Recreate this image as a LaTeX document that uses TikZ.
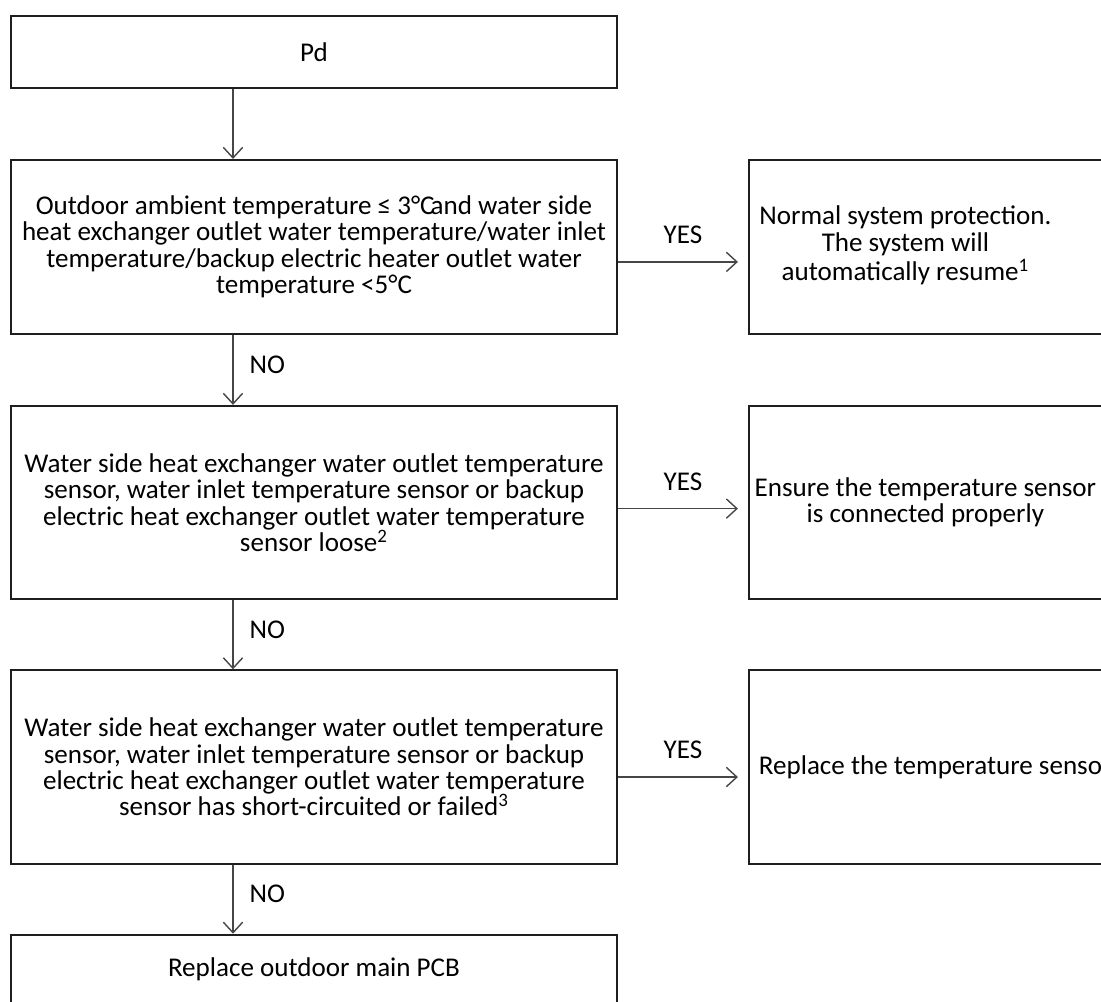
\documentclass[tikz,border=0pt]{standalone}
\usepackage{fontspec}
\setmainfont{Carlito}
\usetikzlibrary{arrows.meta,calc,positioning}
\definecolor{fcline}{RGB}{30,30,30}
\definecolor{fcarrow}{RGB}{70,70,70}

\begin{document}
\begin{tikzpicture}[
  node distance=1.4cm and 2.6cm,
  every node/.style={font=\fontsize{15.4}{15}\selectfont},
  box/.style={draw=fcline, line width=1.1pt, minimum width=12.12cm,
    align=center, inner sep=0pt},
  cond/.style={box, minimum height=3.87cm},
  act/.style={box, minimum width=7.06cm, minimum height=3.87cm},
  arr/.style={-{Straight Barb[length=6pt,width=11pt]}, draw=fcarrow, line width=0.8pt},
  lab/.style={inner sep=0pt}
]
  \useasboundingbox (0,0) rectangle (22.02,-20.02);
  \coordinate (spine) at (4.66,0);

  % left column
  \node[box, minimum height=1.44cm, anchor=north west] (pd) at (0.2,-0.3) {Pd};
  \node[cond, minimum height=3.48cm, below=1.40cm of pd] (cond1)
    {Outdoor ambient temperature ≤ 3°C\kern-0.15em and water side\\
     heat exchanger outlet water temperature/water inlet\\
     temperature/backup electric heater outlet water\\
     temperature <5°C};
  \node[cond, below=1.40cm of cond1] (cond2)
    {Water side heat exchanger water outlet temperature\\
     sensor, water inlet temperature sensor or backup\\
     electric heat exchanger outlet water temperature\\
     sensor loose\textsuperscript{2}};
  \node[cond, below=1.38cm of cond2] (cond3)
    {Water side heat exchanger water outlet temperature\\
     sensor, water inlet temperature sensor or backup\\
     electric heat exchanger outlet water temperature\\
     sensor has short-circuited or failed\textsuperscript{3}};
  \node[box, minimum height=1.40cm, below=1.38cm of cond3] (pcb) {Replace outdoor main PCB};

  % right column
  \node[act, minimum height=3.48cm, right=of cond1] (chk1)
    {\begin{tabular}{@{}c@{\hspace{0.8cm}}}Normal system protection.\\The system will\\
     automatically resume\textsuperscript{1}\end{tabular}};
  \node[act, right=of cond2] (chk2)
    {Ensure the temperature sensor\\is connected properly};
  \node[act, right=of cond3] (chk3)
    {\makebox[6.66cm][l]{Replace the temperature sensor}};

  % connectors
  \draw[arr] (pd.south -| spine) -- (cond1.north -| spine);
  \draw[arr] (cond1.south -| spine) -- node[lab, right=9pt, yshift=3pt]{NO} (cond2.north -| spine);
  \draw[arr] (cond2.south -| spine) -- node[lab, right=9pt, yshift=3pt]{NO} (cond3.north -| spine);
  \draw[arr] (cond3.south -| spine) -- node[lab, right=9pt, yshift=3pt]{NO} (pcb.north -| spine);

  \draw[arr, shorten >=0.2cm] ($(cond1.east)+(0,-0.3)$) -- node[lab, above=10pt]{YES} ($(chk1.west)+(0,-0.3)$);
  \draw[arr, shorten >=0.2cm] ($(cond2.east)+(0,-0.12)$) -- node[lab, above=10pt]{YES} ($(chk2.west)+(0,-0.12)$);
  \draw[arr, shorten >=0.2cm] ($(cond3.east)+(0,-0.2)$) -- node[lab, above=10pt]{YES} ($(chk3.west)+(0,-0.2)$);
\end{tikzpicture}
\end{document}
